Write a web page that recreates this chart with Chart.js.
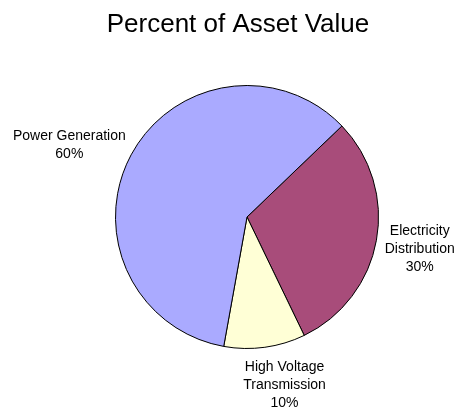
<!DOCTYPE html>
<html>
<head>
<meta charset="utf-8">
<script src="https://cdn.jsdelivr.net/npm/chart.js@4"></script>
<style>
  html, body { margin: 0; padding: 0; background: #fff; }
  #wrap { width: 460px; height: 409px; }
</style>
</head>
<body>
<div id="wrap"><canvas id="pieChart" width="460" height="409"></canvas></div>
<script>
// Chart data (clockwise, starting at the upper right)
const categories = ['Electricity\nDistribution', 'High Voltage\nTransmission', 'Power Generation'];
const percentValues = [30, 10, 60];
const sliceColors = ['#A84C7A', '#FFFFD6', '#AAAAFF'];
const chartTitle = 'Percent of Asset Value';

// Draws the title and the outside labels
const outsideLabels = {
  id: 'outsideLabels',
  afterDraw(chart) {
    const ctx = chart.ctx;
    ctx.save();
    ctx.fillStyle = '#000';

    // title
    ctx.font = '26px "Liberation Sans", Arial, sans-serif';
    ctx.textAlign = 'center';
    ctx.textBaseline = 'alphabetic';
    ctx.fillText(chartTitle, 238, 32);

    // slice labels, nudged a little per slice like the original
    const nudgeX = [1, 13, -5];
    ctx.font = '14px "Liberation Sans", Arial, sans-serif';
    const lineH = 18;
    const arcs = chart.getDatasetMeta(0).data;
    arcs.forEach((arc, i) => {
      const lines = categories[i].split('\n').concat(percentValues[i] + '%');
      const w = Math.max(...lines.map(t => ctx.measureText(t).width));
      const h = lines.length * lineH;
      const mid = (arc.startAngle + arc.endAngle) / 2;
      const dx = Math.cos(mid), dy = Math.sin(mid);
      const r = arc.outerRadius + 8;
      const cx = arc.x + dx * r + dx * w / 2 + nudgeX[i];
      const cy = arc.y + dy * r + dy * h / 2 + 3;
      lines.forEach((t, k) => {
        ctx.textBaseline = 'middle';
        ctx.fillText(t, cx, cy - h / 2 + lineH / 2 + k * lineH);
      });
    });
    ctx.restore();
  }
};

const ctx = document.getElementById('pieChart').getContext('2d');
new Chart(ctx, {
  type: 'pie',
  data: {
    labels: categories,
    datasets: [{
      data: percentValues,
      backgroundColor: sliceColors,
      borderColor: '#000',
      borderWidth: 1
    }]
  },
  options: {
    responsive: false,
    animation: false,
    rotation: 46.2,
    layout: { padding: { left: 115, right: 81, top: 85, bottom: 60 } },
    plugins: {
      legend: { display: false },
      tooltip: { enabled: false },
      title: { display: false }
    }
  },
  plugins: [outsideLabels]
});
</script>
</body>
</html>
